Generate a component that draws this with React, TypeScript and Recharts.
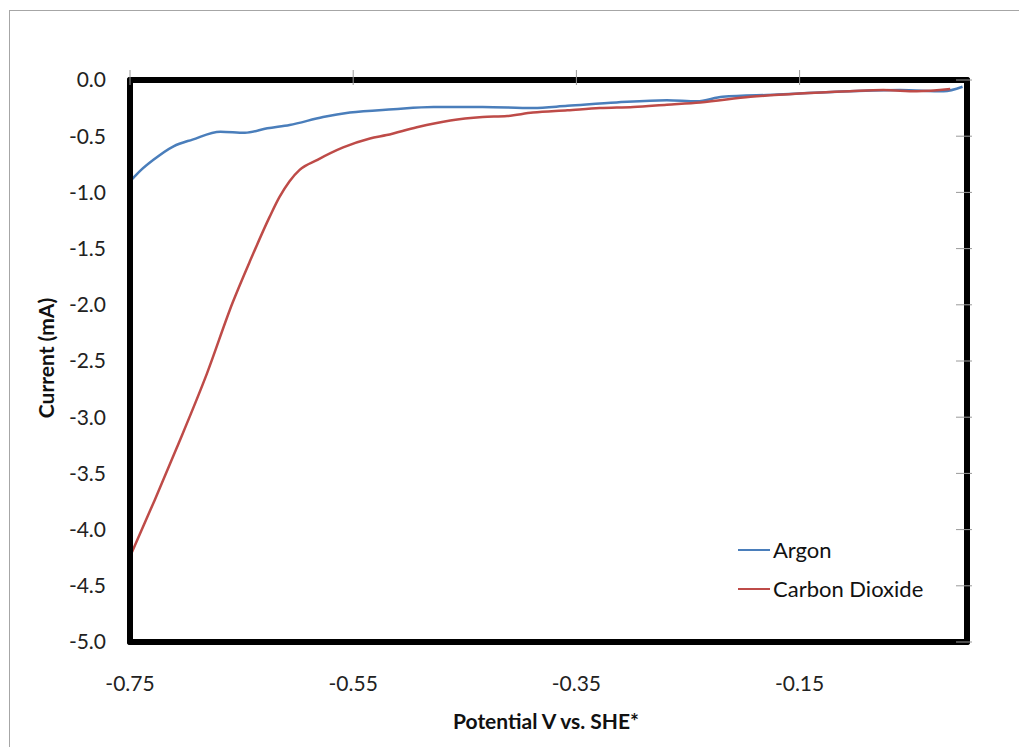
import React from "react";
import { LineChart, Line, XAxis, YAxis, Legend } from "recharts";

const FONT = "Lato, 'Open Sans', sans-serif";

// potential (V vs. SHE) and current (mA)
const argonPotential = [-0.75, -0.747, -0.74, -0.729, -0.711, -0.694, -0.669, -0.647, -0.627, -0.607, -0.577, -0.553, -0.514, -0.478, -0.434, -0.389, -0.358, -0.314, -0.269, -0.242, -0.219, -0.17, -0.15, -0.105, -0.06, -0.021, -0.004];
const argonCurrent = [-0.9, -0.87, -0.8, -0.71, -0.59, -0.53, -0.46, -0.47, -0.43, -0.4, -0.33, -0.29, -0.26, -0.24, -0.24, -0.25, -0.23, -0.2, -0.18, -0.19, -0.15, -0.13, -0.12, -0.1, -0.09, -0.1, -0.06];

const co2Potential = [-0.75, -0.728, -0.708, -0.681, -0.658, -0.642, -0.625, -0.616, -0.607, -0.598, -0.582, -0.559, -0.535, -0.52, -0.493, -0.463, -0.434, -0.412, -0.389, -0.358, -0.329, -0.299, -0.269, -0.239, -0.194, -0.15, -0.105, -0.075, -0.045, -0.015];
const co2Current = [-4.24, -3.74, -3.27, -2.61, -1.98, -1.6, -1.22, -1.04, -0.9, -0.8, -0.71, -0.6, -0.52, -0.49, -0.42, -0.36, -0.33, -0.32, -0.29, -0.27, -0.25, -0.24, -0.22, -0.2, -0.15, -0.12, -0.1, -0.09, -0.1, -0.08];

const xTicks = [-0.75, -0.55, -0.35, -0.15];
const yTicks = [-5, -4.5, -4, -3.5, -3, -2.5, -2, -1.5, -1, -0.5, 0];

const series = [
  { name: "Argon", color: "#4A7EBB", data: argonPotential.map((x, i) => ({ x, y: argonCurrent[i] })) },
  { name: "Carbon Dioxide", color: "#BE4B48", data: co2Potential.map((x, i) => ({ x, y: co2Current[i] })) },
];

const border = { stroke: "#000", strokeWidth: 6, strokeLinecap: "round" as const };

const TopTick = (p: any) => (
  <line x1={p.x} x2={p.x} y1={p.y - 10} y2={p.y + 5} stroke="#9a9a9a" strokeWidth={1} />
);
const RightTick = (p: any) => (
  <line x1={p.x - 11} x2={p.x + 5} y1={p.y} y2={p.y} stroke="#9a9a9a" strokeWidth={1} />
);

const renderLegend = () => (
  <div style={{ fontFamily: FONT, fontSize: 22, color: "#111" }}>
    {series.map((s) => (
      <div key={s.name} style={{ display: "flex", alignItems: "center", height: 39 }}>
        <span style={{ width: 32, height: 0, borderTop: `2.5px solid ${s.color}`, marginRight: 3 }} />
        <span>{s.name}</span>
      </div>
    ))}
  </div>
);

export default function App() {
  return (
    <div style={{ position: "absolute", left: 0, top: 0, width: 1019, height: 747, overflow: "hidden", background: "#fff", fontFamily: FONT }}>
      <div style={{ position: "absolute", left: 9, top: 10, width: 1200, height: 900, borderTop: "1px solid #a6a6a6", borderLeft: "1px solid #a6a6a6" }} />
      <div style={{ position: "absolute", left: 0, top: 0 }}>
        <LineChart width={1019} height={747} margin={{ top: 79, right: 51, bottom: 104, left: 129 }}>
          {series.map((s) => (
            <Line key={s.name} xAxisId="b" yAxisId="l" data={s.data} dataKey="y" name={s.name} type="monotone"
              stroke={s.color} strokeWidth={2.5} dot={false} activeDot={false} isAnimationActive={false} />
          ))}
          <XAxis xAxisId="b" type="number" dataKey="x" domain={[-0.75, 0]} allowDataOverflow ticks={xTicks}
            height={1} tickLine={false} tickSize={0} tickMargin={34} axisLine={border}
            tickFormatter={(v: number) => v.toFixed(2)} tick={{ fontSize: 21, fill: "#222", fontFamily: FONT }} />
          <XAxis xAxisId="t" orientation="top" type="number" dataKey="x" domain={[-0.75, 0]} allowDataOverflow ticks={xTicks}
            height={1} tickLine={false} tickSize={0} tickMargin={0} axisLine={border} tick={TopTick} />
          <YAxis yAxisId="l" type="number" domain={[-5, 0]} allowDataOverflow ticks={yTicks}
            width={1} tickLine={false} tickSize={0} tickMargin={24} axisLine={border}
            tickFormatter={(v: number) => v.toFixed(1)} tick={{ fontSize: 21, fill: "#222", fontFamily: FONT }} />
          <YAxis yAxisId="r" orientation="right" type="number" domain={[-5, 0]} allowDataOverflow ticks={yTicks}
            width={1} tickLine={false} tickSize={0} tickMargin={0} axisLine={border} tick={RightTick} />
          <Legend layout="horizontal" verticalAlign="middle" align="center" content={renderLegend}
            wrapperStyle={{ left: 738, top: 530, width: 260 }} />
        </LineChart>
      </div>
      <div style={{ position: "absolute", left: 546, top: 720, transform: "translate(-50%, -50%)", whiteSpace: "nowrap", fontWeight: 700, fontSize: 21, color: "#111" }}>
        Potential V vs. SHE*
      </div>
      <div style={{ position: "absolute", left: 45, top: 358, transform: "translate(-50%, -50%) rotate(-90deg)", whiteSpace: "nowrap", fontWeight: 700, fontSize: 21, color: "#111" }}>
        Current (mA)
      </div>
    </div>
  );
}
